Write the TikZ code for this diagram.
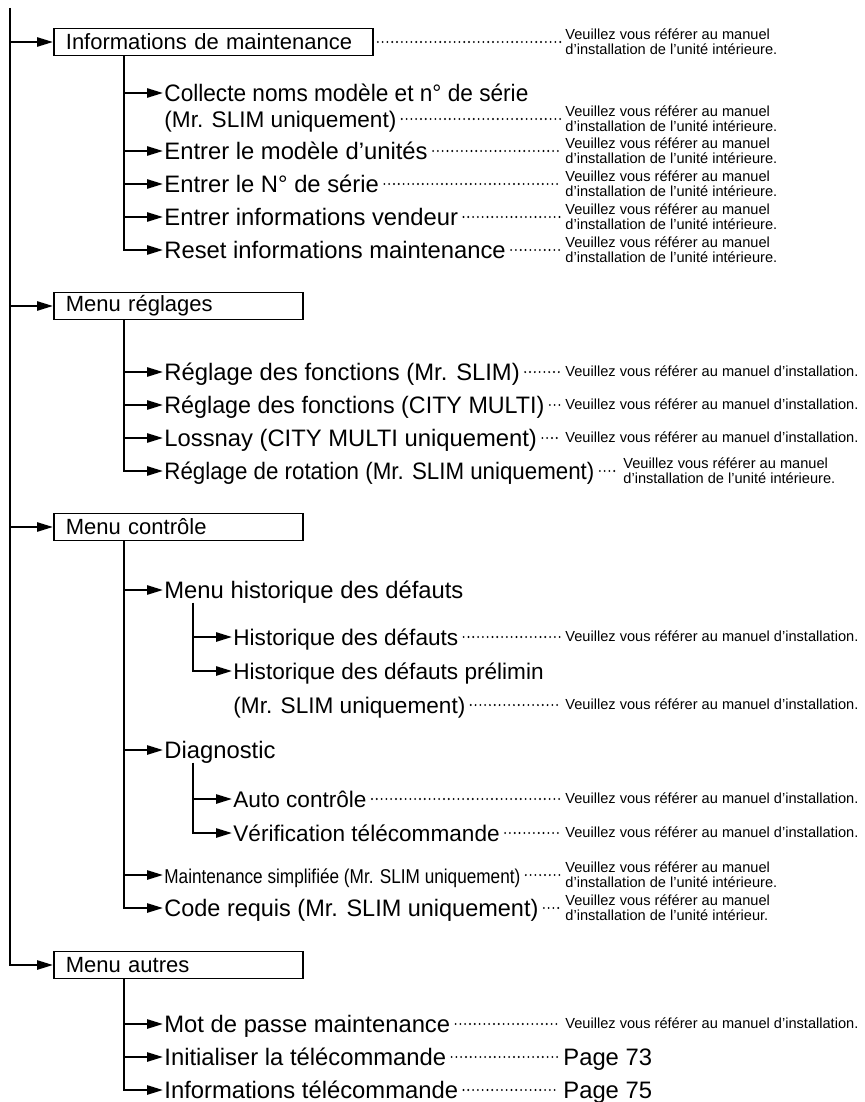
\documentclass[tikz,border=0pt]{standalone}
\usepackage{fontspec}
\setmainfont{Liberation Sans}
\usepackage{graphicx}
\usetikzlibrary{arrows.meta}

\newcommand{\voirman}{Veuillez vous référer au manuel d’installation.}
\newcommand{\voirunit}{Veuillez vous référer au manuel\\d’installation de l’unité intérieure.}

\begin{document}
\begin{tikzpicture}[x=0.5pt, y=-0.5pt,
	menu/.style={draw, line width=0.9pt, anchor=west, inner xsep=6pt, inner ysep=0pt, minimum height=13.5pt, text width=112.5pt, align=left, font=\fontsize{11}{13}\selectfont},
	item/.style={anchor=west, inner xsep=0.5pt, inner ysep=0pt, text height=8.2pt, text depth=0pt, font=\fontsize{11.9}{13}\selectfont},
	subitem/.style={item, font=\fontsize{11.3}{13}\selectfont},
	ref/.style={anchor=west, inner sep=0pt, align=left, font=\fontsize{7.3}{7.4}\selectfont},
	arr/.style={-{Triangle[length=8pt,width=4.6pt]}, line width=1pt},
	dots/.style={line width=1.05pt, line cap=round, dash pattern=on 0pt off 2.4pt, shorten <=2pt, shorten >=2pt}]
\useasboundingbox (0,0) rectangle (865,1102);

\node[menu, text width=147.5pt]	(info)		at (53,42)		{Informations de maintenance};
\node[item]	(collecte)	at (163,93)		{\resizebox{182pt}{\height}{Collecte noms modèle et n° de série}};
\node[subitem]	(collecteb)	at (163,119)	{(Mr. SLIM uniquement)};
\node[item]	(modele)	at (163,151)	{Entrer le modèle d’unités};
\node[item]	(serie)		at (163,184)	{Entrer le N° de série};
\node[item]	(vendeur)	at (163,217)	{Entrer informations vendeur};
\node[item]	(reset)		at (163,250)	{Reset informations maintenance};

\node[menu]	(reglages)	at (53,306)		{Menu réglages};
\node[item]	(fslim)		at (163,372)	{Réglage des fonctions (Mr. SLIM)};
\node[item]	(fcity)		at (163,405)	{\resizebox{190pt}{\height}{Réglage des fonctions (CITY MULTI)}};
\node[item]	(lossnay)	at (163,438)	{Lossnay (CITY MULTI uniquement)};
\node[item]	(rotation)	at (163,471)	{\resizebox{215pt}{\height}{Réglage de rotation (Mr. SLIM uniquement)}};

\node[menu]	(controle)	at (53,527)		{Menu contrôle};
\node[item]	(histmenu)	at (163,590)	{Menu historique des défauts};
\node[subitem]	(hist)		at (232,637)	{Historique des défauts};
\node[subitem]	(prelim)	at (232,671)	{Historique des défauts prélimin};
\node[subitem]	(prelimb)	at (232,705)	{(Mr. SLIM uniquement)};
\node[item]	(diag)		at (163,750)	{Diagnostic};
\node[subitem]	(autoctl)	at (232,799)	{Auto contrôle};
\node[subitem]	(verif)		at (232,833)	{Vérification télécommande};
\node[item]	(simpl)		at (163,875)	{\resizebox{178pt}{\height}{\fontsize{10}{12}\selectfont Maintenance simplifiée (Mr. SLIM uniquement)}};
\node[item]	(code)		at (163,908)	{\resizebox{187pt}{\height}{Code requis (Mr. SLIM uniquement)}};

\node[menu]	(autres)	at (53,965)		{Menu autres};
\node[item]	(motpasse)	at (163,1024)	{Mot de passe maintenance};
\node[item]	(initcde)	at (163,1057)	{Initialiser la télécommande};
\node[item]	(infotel)	at (163,1090)	{Informations télécommande};

\node[ref]	(r-info)		at (565,42)		{\voirunit};
\node[ref]	(r-collecte)	at (565,119)	{\voirunit};
\node[ref]	(r-modele)		at (565,151)	{\voirunit};
\node[ref]	(r-serie)		at (565,184)	{\voirunit};
\node[ref]	(r-vendeur)		at (565,217)	{\voirunit};
\node[ref]	(r-reset)		at (565,250)	{\voirunit};
\node[ref]	(r-fslim)		at (565,371)	{\voirman};
\node[ref]	(r-fcity)		at (565,404)	{\voirman};
\node[ref]	(r-lossnay)		at (565,437)	{\voirman};
\node[ref]	(r-rotation)	at (623,471)	{\voirunit};
\node[ref]	(r-hist)		at (565,636)	{\voirman};
\node[ref]	(r-prelim)		at (565,704)	{\voirman};
\node[ref]	(r-autoctl)		at (565,798)	{\voirman};
\node[ref]	(r-verif)		at (565,832)	{\voirman};
\node[ref]	(r-simpl)		at (565,875)	{\voirunit};
\node[ref]	(r-code)		at (565,908)	{Veuillez vous référer au manuel\\d’installation de l’unité intérieur.};
\node[ref]	(r-motpasse)	at (565,1023)	{\voirman};
\node[item]	(p73)			at (562,1057)	{Page 73};
\node[item]	(p75)			at (562,1090)	{Page 75};

\coordinate (top) at (10,8);
\coordinate (s1) at ([xshift=35.5pt]info.south west);
\coordinate (s2) at ([xshift=35.5pt]reglages.south west);
\coordinate (s3) at ([xshift=35.5pt]controle.south west);
\coordinate (s4) at ([xshift=35.5pt]autres.south west);
\coordinate (s5) at ([xshift=14.75pt,yshift=-2pt]histmenu.south west);
\coordinate (s6) at ([xshift=14.75pt,yshift=-2pt]diag.south west);

\draw[arr] (top) |- (autres);
\path[arr]	(top |- info)		edge	(info)
			(top |- reglages)	edge	(reglages)
			(top |- controle)	edge	(controle);

\draw[arr] (s1) |- (reset);
\path[arr]	(s1 |- collecte)	edge	(collecte)
			(s1 |- modele)		edge	(modele)
			(s1 |- serie)		edge	(serie)
			(s1 |- vendeur)		edge	(vendeur);

\draw[arr] (s2) |- (rotation);
\path[arr]	(s2 |- fslim)		edge	(fslim)
			(s2 |- fcity)		edge	(fcity)
			(s2 |- lossnay)		edge	(lossnay);

\draw[arr] (s3) |- (code);
\path[arr]	(s3 |- histmenu)	edge	(histmenu)
			(s3 |- diag)		edge	(diag)
			(s3 |- simpl)		edge	(simpl);

\draw[arr] (s5) |- (prelim);
\path[arr]	(s5 |- hist)		edge	(hist);

\draw[arr] (s6) |- (verif);
\path[arr]	(s6 |- autoctl)		edge	(autoctl);

\draw[arr] (s4) |- (infotel);
\path[arr]	(s4 |- motpasse)	edge	(motpasse)
			(s4 |- initcde)		edge	(initcde);

\path[dots]	(info)		edge	(info -| r-info.west)
			(collecteb)	edge	(collecteb -| r-collecte.west)
			(modele)	edge	(modele -| r-modele.west)
			(serie)		edge	(serie -| r-serie.west)
			(vendeur)	edge	(vendeur -| r-vendeur.west)
			(reset)		edge	(reset -| r-reset.west)
			(fslim)		edge	(fslim -| r-fslim.west)
			(fcity)		edge	(fcity -| r-fcity.west)
			(lossnay)	edge	(lossnay -| r-lossnay.west)
			(rotation)	edge	(rotation -| r-rotation.west)
			(hist)		edge	(hist -| r-hist.west)
			(prelimb)	edge	(prelimb -| r-prelim.west)
			(autoctl)	edge	(autoctl -| r-autoctl.west)
			(verif)		edge	(verif -| r-verif.west)
			(simpl)		edge	(simpl -| r-simpl.west)
			(code)		edge	(code -| r-code.west)
			(motpasse)	edge	(motpasse -| r-motpasse.west)
			(initcde)	edge	(initcde -| p73.west)
			(infotel)	edge	(infotel -| p75.west);
\end{tikzpicture}
\end{document}
